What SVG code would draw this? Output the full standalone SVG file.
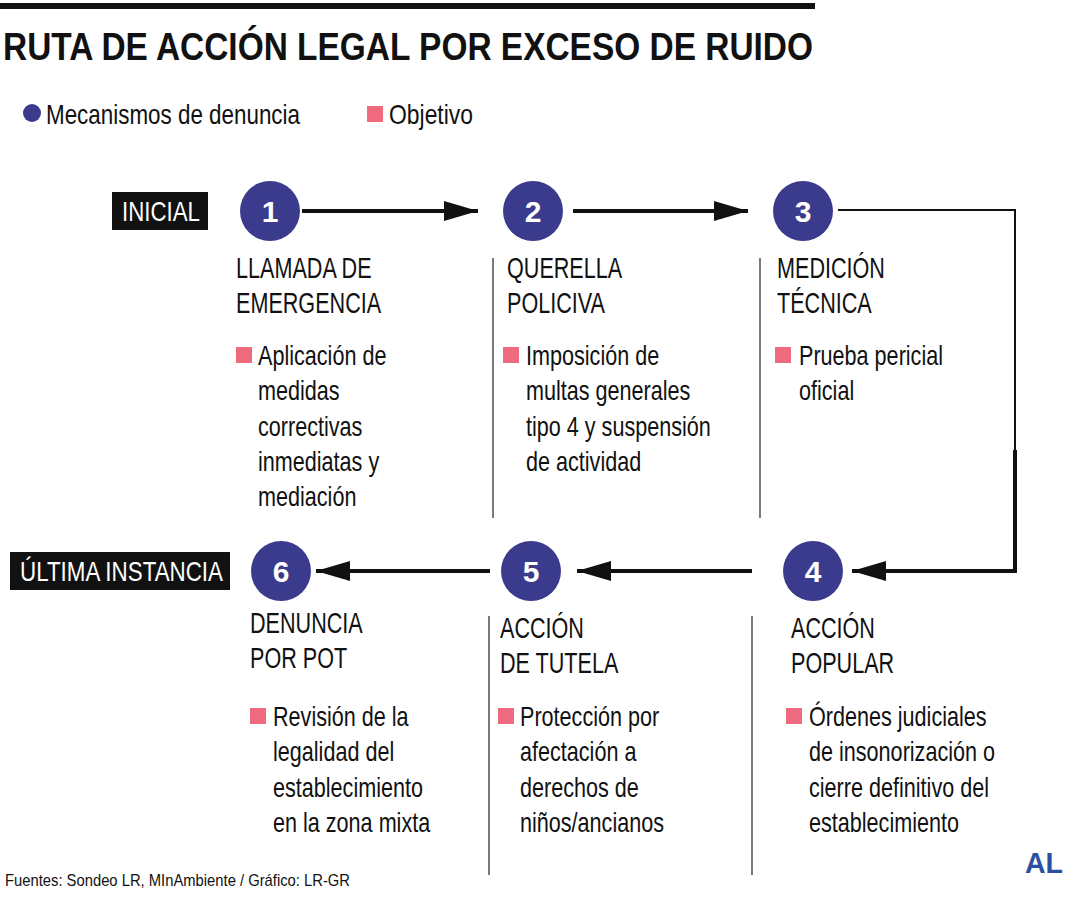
<svg xmlns="http://www.w3.org/2000/svg" width="1080" height="900" viewBox="0 0 1080 900">
<style>
text{font-family:"Liberation Sans",Arial,sans-serif;fill:#111}
.h{font-size:30px}
.b{font-size:27px}
.lab{font-size:28px;fill:#fff}
.num{font-size:30px;font-weight:bold;fill:#fff;text-anchor:middle}
.c{fill:#3b3b8e}
.sq{fill:#ef6a7f}
.ln{stroke:#111;stroke-width:4;fill:none}
.dv{stroke:#333;stroke-width:1.3}
</style>
<defs>
<marker id="a" markerWidth="34" markerHeight="20" refX="34" refY="10" orient="auto" markerUnits="userSpaceOnUse"><path d="M0,0L34,10L0,20z" fill="#111"/></marker></defs>
<rect x="0" y="3" width="815" height="6" fill="#111"/>
<text x="3" y="60" font-size="38" font-weight="bold" textLength="810" lengthAdjust="spacingAndGlyphs">RUTA DE ACCIÓN LEGAL POR EXCESO DE RUIDO</text>
<g id="legend">
<circle cx="32" cy="113" r="9" class="c"/>
<text x="46" y="124" font-size="28" textLength="254" lengthAdjust="spacingAndGlyphs">Mecanismos de denuncia</text>
<rect x="367" y="106" width="16" height="16" class="sq"/>
<text x="389" y="124" font-size="28" textLength="84" lengthAdjust="spacingAndGlyphs">Objetivo</text>
</g>
<g id="labels">
<rect x="112" y="192" width="96" height="38" fill="#111"/>
<text x="122" y="221" class="lab" textLength="78" lengthAdjust="spacingAndGlyphs">INICIAL</text>
<rect x="10" y="552" width="220" height="38" fill="#111"/>
<text x="20" y="581" class="lab" textLength="203" lengthAdjust="spacingAndGlyphs">ÚLTIMA INSTANCIA</text>
</g>
<g id="connectors">
<path class="ln" d="M302,211H478" marker-end="url(#a)"/>
<path class="ln" d="M573,211H748" marker-end="url(#a)"/>
<path d="M838,210H1015V571H852" stroke="#111" stroke-width="2" fill="none"/>
<path class="ln" d="M1015,450V571H852" marker-end="url(#a)"/>
<path class="ln" d="M752,571H577" marker-end="url(#a)"/>
<path class="ln" d="M490,571H316" marker-end="url(#a)"/>
<line class="dv" x1="493" y1="258" x2="493" y2="518"/>
<line class="dv" x1="760" y1="258" x2="760" y2="518"/>
<line class="dv" x1="489" y1="616" x2="489" y2="875"/>
<line class="dv" x1="752" y1="616" x2="752" y2="875"/>
</g>
<g id="n1"><circle cx="270" cy="211" r="30" class="c"/><text x="270" y="222" class="num">1</text>
<g transform="translate(236,0) scale(0.72,1)"><text y="278" class="h">LLAMADA DE</text><text y="313" class="h">EMERGENCIA</text></g>
<rect x="236" y="347" width="16" height="16" class="sq"/>
<g transform="translate(258,0) scale(0.8,1)"><text y="365" class="b">Aplicación de</text><text y="400" class="b">medidas</text><text y="436" class="b">correctivas</text><text y="471" class="b">inmediatas y</text><text y="506" class="b">mediación</text></g></g>
<g id="n2"><circle cx="533" cy="211" r="30" class="c"/><text x="533" y="222" class="num">2</text>
<g transform="translate(507,0) scale(0.72,1)"><text y="278" class="h">QUERELLA</text><text y="313" class="h">POLICIVA</text></g>
<rect x="503" y="347" width="16" height="16" class="sq"/>
<g transform="translate(526,0) scale(0.8,1)"><text y="365" class="b">Imposición de</text><text y="400" class="b">multas generales</text><text y="436" class="b">tipo 4 y suspensión</text><text y="471" class="b">de actividad</text></g></g>
<g id="n3"><circle cx="803" cy="211" r="30" class="c"/><text x="803" y="222" class="num">3</text>
<g transform="translate(777,0) scale(0.72,1)"><text y="278" class="h">MEDICIÓN</text><text y="313" class="h">TÉCNICA</text></g>
<rect x="775" y="347" width="16" height="16" class="sq"/>
<g transform="translate(799,0) scale(0.8,1)"><text y="365" class="b">Prueba pericial</text><text y="400" class="b">oficial</text></g></g>
<g id="n4"><circle cx="813" cy="571" r="30" class="c"/><text x="813" y="582" class="num">4</text>
<g transform="translate(791,0) scale(0.72,1)"><text y="638" class="h">ACCIÓN</text><text y="673" class="h">POPULAR</text></g>
<rect x="786" y="708" width="16" height="16" class="sq"/>
<g transform="translate(809,0) scale(0.8,1)"><text y="726" class="b">Órdenes judiciales</text><text y="761" class="b">de insonorización o</text><text y="797" class="b">cierre definitivo del</text><text y="832" class="b">establecimiento</text></g></g>
<g id="n5"><circle cx="531" cy="571" r="30" class="c"/><text x="531" y="582" class="num">5</text>
<g transform="translate(500,0) scale(0.72,1)"><text y="638" class="h">ACCIÓN</text><text y="673" class="h">DE TUTELA</text></g>
<rect x="498" y="708" width="16" height="16" class="sq"/>
<g transform="translate(520,0) scale(0.8,1)"><text y="726" class="b">Protección por</text><text y="761" class="b">afectación a</text><text y="797" class="b">derechos de</text><text y="832" class="b">niños/ancianos</text></g></g>
<g id="n6"><circle cx="281" cy="571" r="30" class="c"/><text x="281" y="582" class="num">6</text>
<g transform="translate(250,0) scale(0.72,1)"><text y="633" class="h">DENUNCIA</text><text y="668" class="h">POR POT</text></g>
<rect x="250" y="708" width="16" height="16" class="sq"/>
<g transform="translate(273,0) scale(0.8,1)"><text y="726" class="b">Revisión de la</text><text y="761" class="b">legalidad del</text><text y="797" class="b">establecimiento</text><text y="832" class="b">en la zona mixta</text></g></g>
<text x="5" y="886" font-size="17" textLength="345" lengthAdjust="spacingAndGlyphs">Fuentes: Sondeo LR, MInAmbiente / Gráfico: LR-GR</text>
<text x="1025" y="873" font-size="30" font-weight="bold" style="fill:#2d4fa0" textLength="38" lengthAdjust="spacingAndGlyphs">AL</text>
</svg>
